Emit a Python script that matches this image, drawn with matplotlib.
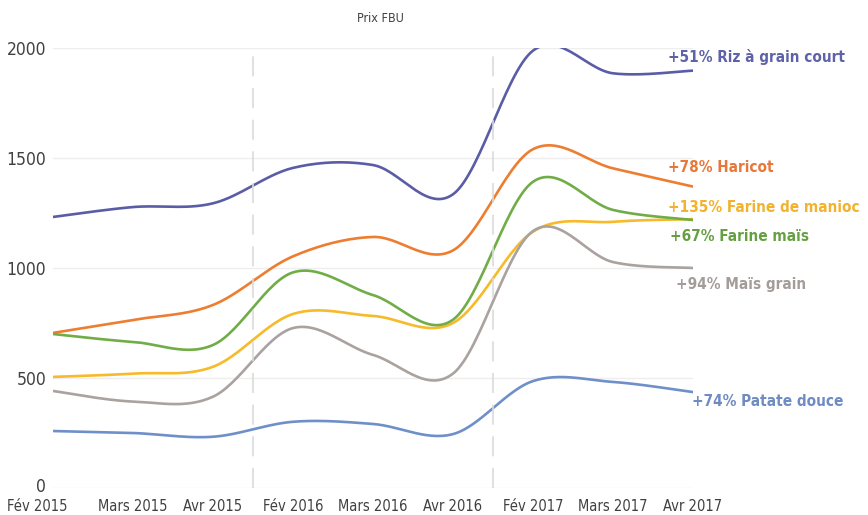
import numpy as np
import matplotlib
matplotlib.use('Agg')
import matplotlib.pyplot as plt
from matplotlib import font_manager as fm
from matplotlib.transforms import ScaledTranslation

# data (Prix FBU)
months = ['Fév 2015', 'Mars 2015', 'Avr 2015', 'Fév 2016', 'Mars 2016',
          'Avr 2016', 'Fév 2017', 'Mars 2017', 'Avr 2017']

riz = [1232, 1277, 1294, 1455, 1468, 1335, 1988, 1885, 1897]
haricot = [705, 764, 832, 1053, 1141, 1080, 1540, 1453, 1370]
farine_manioc = [505, 520, 551, 791, 782, 750, 1165, 1210, 1222]
farine_mais = [700, 664, 650, 980, 877, 765, 1392, 1264, 1218]
mais_grain = [441, 393, 415, 727, 605, 520, 1168, 1027, 1000]
patate = [259, 250, 233, 301, 291, 245, 486, 482, 436]

labels = ['+51% Riz à grain court', '+78% Haricot', '+135% Farine de manioc',
          '+67% Farine maïs', '+94% Maïs grain', '+74% Patate douce']

yticks = [0, 500, 1000, 1500, 2000]


def find_font(bold):
    # look for a narrow / condensed face, the chart uses Arial Narrow style text
    cands = []
    for f in fm.fontManager.ttflist:
        name = f.name.lower()
        narrow = ('narrow' in name or 'condensed' in name
                  or str(f.stretch) in ('condensed', 'semi-condensed', '500', '400') and 'cond' in f.fname.lower())
        if not narrow:
            continue
        is_bold = f.weight in ('bold', 700, 'semibold', 600) or (isinstance(f.weight, int) and f.weight >= 600)
        if f.style != 'normal' or is_bold != bold:
            continue
        rank = 0 if 'liberation' in name else 1 if 'dejavu' in name else 2
        cands.append((rank, f.fname))
    if cands:
        return fm.FontProperties(fname=sorted(cands)[0][1])
    return fm.FontProperties(family='DejaVu Sans', weight='bold' if bold else 'normal',
                             stretch='condensed')


fp_reg = find_font(False)
fp_bold = find_font(True)


def smooth(y, n=30):
    # catmull-rom curve through the points, like excel "smoothed line"
    y = np.asarray(y, dtype=float)
    x = np.arange(len(y), dtype=float)
    px = np.concatenate([[x[0]], x, [x[-1]]])
    py = np.concatenate([[y[0]], y, [y[-1]]])
    xs, ys = [], []
    t = np.linspace(0, 1, n, endpoint=False)
    for i in range(1, len(px) - 2):
        for p, out in ((px, xs), (py, ys)):
            p0, p1, p2, p3 = p[i - 1], p[i], p[i + 1], p[i + 2]
            out.extend(0.5 * ((2 * p1) + (-p0 + p2) * t
                              + (2 * p0 - 5 * p1 + 4 * p2 - p3) * t ** 2
                              + (-p0 + 3 * p1 - 3 * p2 + p3) * t ** 3))
    xs.append(x[-1])
    ys.append(y[-1])
    return np.array(xs), np.array(ys)


fig = plt.figure(figsize=(8.68, 5.15), dpi=100)
ax = fig.add_axes([53 / 868, 27 / 515, 640 / 868, 440 / 515])

series = [riz, haricot, farine_manioc, farine_mais, mais_grain, patate]
line_colors = ['#5A5DA6', '#ED7D31', '#F7BA2A', '#70AD47', '#AAA29F', '#6F8FC9']
text_colors = ['#5E62A8', '#E8773A', '#F2B22E', '#66A043', '#A39C98', '#6F8BC3']
label_pos = [(7.69, 1959), (7.69, 1459), (7.69, 1277), (7.71, 1141), (7.79, 927), (7.99, 391)]

for vals, lc in zip(series, line_colors):
    sx, sy = smooth(vals)
    ax.plot(sx, sy, color=lc, lw=1.9, solid_capstyle='round')

fp_lab = fp_bold.copy()
fp_lab.set_size(11)
for lab, tc, (lx, ly) in zip(labels, text_colors, label_pos):
    ax.text(lx, ly, lab, color=tc, fontproperties=fp_lab, va='center', ha='left')

# dashed separators between years
for xv in (2.5, 5.5):
    ax.axvline(xv, color='#DADADA', lw=1.2, dashes=(12, 7))

ax.set_xlim(0, 8)
ax.set_ylim(0, 2000)
ax.set_yticks(yticks)
ax.set_xticks(range(len(months)))
fp_x = fp_reg.copy()
fp_x.set_size(10.5)
fp_y = fp_reg.copy()
fp_y.set_size(12.5)
ax.set_xticklabels(months, fontproperties=fp_x, color='#404040')
ax.set_yticklabels([str(v) for v in yticks], fontproperties=fp_y, color='#404040')
ax.tick_params(axis='both', length=0)
ax.tick_params(axis='x', pad=8)
ax.tick_params(axis='y', pad=5)
ax.grid(axis='y', color='#EEEEEE', lw=1)
ax.set_axisbelow(True)
for s in ax.spines.values():
    s.set_visible(False)

# first month label sits a bit left in the original
first = ax.get_xticklabels()[0]
first.set_transform(first.get_transform() + ScaledTranslation(-0.16, 0, fig.dpi_scale_trans))

# "0" label sits a little above its gridline
zero = ax.get_yticklabels()[0]
zero.set_transform(zero.get_transform() + ScaledTranslation(0, 0.03, fig.dpi_scale_trans))

fp_t = fp_reg.copy()
fp_t.set_size(9)
fig.text(380 / 868, 1 - 18 / 515, 'Prix FBU', ha='center', va='center',
         fontproperties=fp_t, color='#404040')

fig.savefig('out.png', dpi=100)
